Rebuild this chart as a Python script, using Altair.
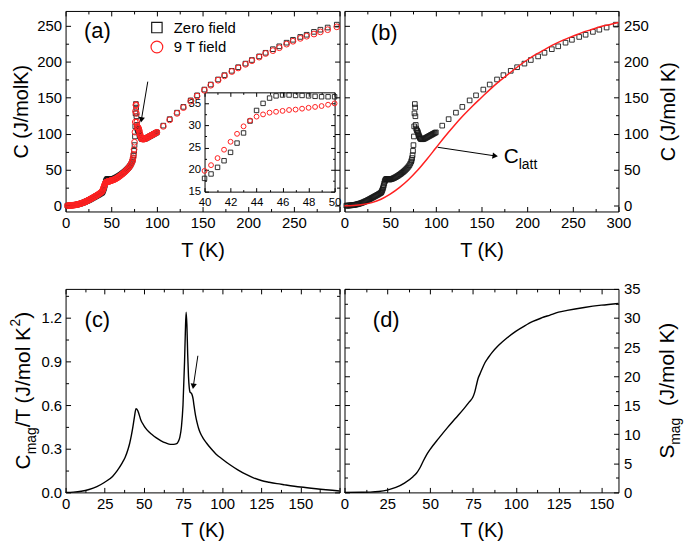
import math
import altair as alt
import pandas as pd

# ---------------- data: panel (a)/(b) specific heat ----------------
T_low1 = [2, 3, 4, 5, 6, 7, 8, 9, 10, 11, 12, 13, 14, 15, 16, 17, 18, 19, 20, 21,
          22, 23, 24, 25, 26, 27, 28, 29, 30, 31, 32, 33, 34, 35, 36, 37, 38, 39]
C0_low1 = [0.05, 0.1, 0.2, 0.3, 0.4, 0.5, 0.65, 0.8, 1.0, 1.2, 1.45, 1.7, 2.0, 2.35, 2.7, 3.1,
           3.5, 4.0, 4.5, 5.0, 5.6, 6.2, 6.8, 7.4, 8.0, 8.7, 9.4, 10.1, 10.8, 11.5, 12.2, 12.9,
           13.6, 14.3, 15.0, 15.7, 16.5, 17.3]
C9_low1 = [0.05, 0.1, 0.2, 0.3, 0.4, 0.5, 0.65, 0.8, 1.0, 1.2, 1.45, 1.7, 2.0, 2.4, 2.8, 3.2,
           3.6, 4.1, 4.6, 5.1, 5.7, 6.3, 7.0, 7.6, 8.3, 9.0, 9.7, 10.4, 11.2, 11.9, 12.7, 13.4,
           14.2, 15.0, 15.8, 16.7, 17.6, 18.6]

T_ins = [40, 40.5, 41, 41.5, 42, 42.5, 43, 43.5, 44, 44.5, 45, 45.5, 46, 46.5, 47, 47.5,
         48, 48.5, 49, 49.5, 50]
C0_ins = [18.0, 19.0, 20.5, 22.0, 23.9, 26.0, 28.3, 31.0, 33.4, 35.0, 36.2, 36.7, 36.9, 36.9,
          36.8, 36.8, 36.7, 36.6, 36.5, 36.5, 36.5]
C9_ins = [19.7, 21.0, 22.6, 24.5, 26.3, 28.1, 29.8, 31.1, 32.0, 32.5, 32.9, 33.1, 33.3, 33.5,
          33.6, 33.8, 34.0, 34.2, 34.4, 34.7, 35.0]

T_low2 = [51, 52, 53, 54, 55, 56, 57, 58, 59, 60, 61, 62, 63, 64, 65, 66, 67, 68, 69, 70, 71, 72, 73,
          73.5, 74, 74.5, 75, 75.5, 76, 76.3, 76.6, 77, 77.3, 77.6, 78, 78.5, 79, 79.5, 80, 80.5,
          81, 81.5, 82, 82.5, 83, 83.5, 84,
          85, 86, 87, 88, 89, 90, 91, 92, 93, 94, 95, 96, 97, 98, 99, 100]
C0_low2 = [36.8, 37.2, 37.7, 38.3, 38.9, 39.6, 40.3, 41.1, 41.9, 42.8, 43.7, 44.6, 45.6, 46.6,
           47.7, 48.8, 50.0, 51.3, 52.7, 54.3, 56.1, 58.3, 61.0,
           63, 66, 70, 76, 84, 96, 110, 128, 141, 136, 124, 112, 107, 105, 104, 103, 101,
           99, 97, 95.5, 94.2, 93.3, 92.7, 92.3,
           92.1, 92.3, 92.7, 93.3, 94.0, 94.7, 95.4, 96.1, 96.8, 97.5, 98.2, 98.9, 99.6, 100.3,
           101.0, 101.7]
C9_low2 = [35.2, 35.6, 36.1, 36.7, 37.4, 38.1, 38.9, 39.8, 40.7, 41.7, 42.7, 43.7, 44.8, 45.9,
           47.1, 48.3, 49.6, 51.0, 52.5, 54.2, 56.1, 58.4, 61.2,
           63.5, 66.5, 71, 78, 88, 102, 116, 131, 140, 139, 128, 116, 110, 108.5, 108, 107, 105,
           102.5, 99.5, 97, 95, 93.8, 93, 92.5,
           92.2, 92.4, 92.8, 93.4, 94.1, 94.8, 95.5, 96.2, 96.9, 97.6, 98.3, 99.0, 99.7, 100.4,
           101.1, 101.8]

T_hi = [107, 114, 122, 129, 137, 144, 152, 159, 167, 174, 182, 189, 197, 204, 212, 219, 227,
        234, 242, 249, 257, 264, 272, 279, 287, 297]
C0_hi = [111, 120, 129, 137, 146, 153, 161, 168, 175, 181, 187, 192, 197, 202, 207, 212, 217,
         221, 226, 230, 234, 237, 241, 244, 247, 251]
C9_hi = [110, 119, 128, 136, 145, 152, 160, 167, 174, 180, 186, 191, 196, 201, 206, 211, 215,
         219, 224, 228, 232, 235, 238, 241, 244, 248]

# lattice contribution (panel b)
T_latt = [0, 10, 20, 30, 40, 50, 60, 70, 80, 90, 100, 110, 120, 130, 140, 150, 160, 170, 180,
          190, 200, 210, 220, 230, 240, 250, 260, 270, 280, 290, 300]
C_latt = [0, 0.4, 1.6, 4.3, 9, 16, 25, 36, 49, 64, 80, 96, 111, 125, 138, 150, 162, 173, 183,
          193, 202, 210, 217, 224, 230, 235, 240, 244, 248, 251, 254]

# ---------------- data: panel (c) Cmag/T ----------------
T_cm = [0, 5, 10, 15, 20, 25, 30, 33, 36, 38, 40, 41, 42, 43, 44, 45, 46, 47, 48, 50,
        52, 55, 58, 61, 64, 67, 69, 71, 72, 73, 74, 75, 76, 76.5, 77, 77.5, 78, 78.5, 79, 79.5,
        80, 80.5, 81, 81.5, 82, 83, 84, 85, 86, 88, 90, 93, 96, 100, 105, 110, 115, 120, 125, 130,
        135, 140, 150, 160, 175]
CmT = [0, 0.002, 0.008, 0.02, 0.04, 0.07, 0.11, 0.15, 0.2, 0.24, 0.3, 0.34, 0.39, 0.45, 0.52,
       0.575, 0.565, 0.535, 0.5, 0.46, 0.43, 0.4, 0.375, 0.355, 0.34, 0.33, 0.33, 0.335, 0.35,
       0.38, 0.45, 0.6, 0.9, 1.1, 1.24, 1.15, 0.95, 0.8, 0.72, 0.69, 0.685, 0.68, 0.665, 0.64,
       0.6, 0.53, 0.48, 0.44, 0.41, 0.37, 0.34, 0.3, 0.265, 0.23, 0.19, 0.155, 0.125, 0.1, 0.082,
       0.07, 0.06, 0.052, 0.037, 0.025, 0.01]

# ---------------- data: panel (d) Smag ----------------
T_s = [0, 10, 15, 20, 25, 30, 35, 40, 42, 44, 46, 48, 50, 55, 60, 65, 70, 73, 75, 76, 77, 78,
       79, 80, 82, 84, 86, 90, 95, 100, 105, 110, 115, 120, 125, 130, 140, 150, 160]
S_mag = [0, 0.02, 0.05, 0.15, 0.4, 0.85, 1.6, 2.7, 3.3, 4.2, 5.4, 6.5, 7.4, 9.3, 11.1, 12.8,
         14.5, 15.6, 16.4, 17.2, 18.4, 19.6, 20.3, 21.0, 22.3, 23.2, 24.0, 25.3, 26.6, 27.7,
         28.6, 29.4, 30.0, 30.5, 31.0, 31.3, 31.8, 32.2, 32.5]

# ---------------- annotations ----------------
arrow_a_T = [90, 83]
arrow_a_C = [172, 119]
arrow_b_T = [102, 165]
arrow_b_C = [81, 69]
arrow_c_T = [84.5, 81.6]
arrow_c_V = [0.94, 0.73]
legend_labels = ["Zero field", "9 T field"]
legend_T = [100, 100]
legend_C = [247, 220]
latt_T = [170]
latt_C = [68]

# ---------------- style / layout ----------------
FONT = "Liberation Sans"
INK = "#1a1a1a"
RED = "#ff2020"
W1, H1 = 276, 202
W2, H2 = 276, 205
XD_AB, YD_AB = [0, 300], [-8, 270]
XD_C, YD_C = [0, 175], [0, 1.4]
XD_D, YD_D = [0, 160], [0, 35]
INS_XD, INS_YD = [40, 50], [15, 37.5]
INS_XR, INS_YR = [140, 271], [182, 82]

EM = {' ': .278, '(': .333, ')': .333, '/': .278, '2': .556, 'C': .722, 'J': .5, 'K': .667,
      'S': .667, 'T': .611, 'a': .556, 'g': .556, 'l': .222, 'm': .833, 'o': .556, 't': .278}


def tw(s, fs):
    return sum(EM.get(ch, 0.556) for ch in s) * fs


def sc(dom, rng=None):
    if rng is None:
        return alt.Scale(domain=dom, nice=False, zero=False)
    return alt.Scale(domain=dom, range=rng, nice=False, zero=False)


def tick_ax(orient, offset, values, size, domain=False):
    return alt.Axis(orient=orient, offset=offset, values=values, ticks=True, tickSize=size,
                    tickColor="black", tickWidth=1, labels=False, domain=domain,
                    domainColor="black", domainWidth=1, grid=False, title=None)


def lab_ax(orient, values, offset=0, fmt=None, title=None, tx=0, ty=0, tangle=None,
           lp=4, lfs=15, tfs=20):
    kw = dict(orient=orient, offset=offset, values=values, ticks=False, tickSize=0,
              domain=False, grid=False, labelPadding=lp, labelFont=FONT, labelFontSize=lfs,
              labelColor="black", labelFlush=False, labelOverlap=False)
    if fmt:
        kw["format"] = fmt
    if title:
        kw.update(title=title, titleFont=FONT, titleFontSize=tfs, titleFontWeight="normal",
                  titleColor="black", titleX=tx, titleY=ty, titleAlign="center",
                  titleBaseline="middle")
        if tangle is not None:
            kw["titleAngle"] = tangle
    else:
        kw["title"] = None
    return alt.Axis(**kw)


def axes_layer(xd, yd, xax, yax, xr=None, yr=None):
    d = pd.DataFrame({"x": [xd[0]], "y": [yd[0]]})
    return alt.Chart(d).mark_point(opacity=0, size=1).encode(
        x=alt.X("x:Q", scale=sc(xd, xr), axis=xax),
        y=alt.Y("y:Q", scale=sc(yd, yr), axis=yax))


def frame_ticks(W, H, xd, yd, xmaj, xmin, ymaj, ymin):
    out = []
    for xv, yv, s in ((xmaj, ymaj, 5), (xmin, ymin, 3)):
        out.append(axes_layer(xd, yd, tick_ax("top", -H, xv, s), tick_ax("right", -W, yv, s)))
        out.append(axes_layer(xd, yd, tick_ax("bottom", -H, xv, s), tick_ax("left", -W, yv, s)))
    return out


def head_angle(x0, y0, x1, y1, sx, sy):
    return math.degrees(math.atan2(-(y1 - y0) * sy, (x1 - x0) * sx)) % 360


def arrow(ts, vs, xd, yd, W, H):
    df = pd.DataFrame({"x": ts, "y": vs})
    sx = W / (xd[1] - xd[0])
    sy = H / (yd[1] - yd[0])
    ang = head_angle(ts[0], vs[0], ts[1], vs[1], sx, sy)
    shaft = alt.Chart(df).mark_line(color="black", strokeWidth=1).encode(
        x=alt.X("x:Q", scale=sc(xd), axis=None), y=alt.Y("y:Q", scale=sc(yd), axis=None))
    head = alt.Chart(df.iloc[[1]]).mark_point(shape="triangle-right", filled=True, size=40,
                                                color="black", opacity=1, angle=ang).encode(
        x=alt.X("x:Q", scale=sc(xd), axis=None), y=alt.Y("y:Q", scale=sc(yd), axis=None))
    return [shaft, head]


def label(txt, x, y, fs=22):
    d = pd.DataFrame({"x": [0]})
    return alt.Chart(d).mark_text(text=txt, font=FONT, fontSize=fs, color="black",
                                  align="center", baseline="middle").encode(
        x=alt.value(x), y=alt.value(y))


def rot_title(pieces, cx, cy):
    # pieces: (text, font size, baseline shift); leading spaces become an offset
    d = pd.DataFrame({"x": [0]})
    total = sum(tw(t, fs) for t, fs, sh in pieces)
    pos = -total / 2
    out = []
    for t, fs, sh in pieces:
        lead = len(t) - len(t.lstrip(" "))
        shown = t.lstrip(" ")
        out.append(alt.Chart(d).mark_text(text=shown, font=FONT, fontSize=fs, color="black",
                                          angle=270, align="left", baseline="middle",
                                          dx=pos + tw(" " * lead, fs), dy=sh).encode(
            x=alt.value(cx), y=alt.value(cy)))
        pos += tw(t, fs)
    return out


def panel(layers, W, H):
    return alt.layer(*layers).resolve_scale(x="independent", y="independent").properties(
        width=W, height=H)


# ---------------- assemble data frames ----------------
zf = pd.DataFrame({"T": T_low1 + T_ins + T_low2 + T_hi, "C": C0_low1 + C0_ins + C0_low2 + C0_hi})
nf = pd.DataFrame({"T": T_low1 + T_ins + T_low2 + T_hi, "C": C9_low1 + C9_ins + C9_low2 + C9_hi})
ins0 = pd.DataFrame({"T": T_ins, "C": C0_ins})
ins9 = pd.DataFrame({"T": T_ins, "C": C9_ins})
latt = pd.DataFrame({"T": T_latt, "C": C_latt})
cm = pd.DataFrame({"T": T_cm, "V": CmT})
sm = pd.DataFrame({"T": T_s, "V": S_mag})
leg = pd.DataFrame({"T": legend_T, "C": legend_C, "lab": legend_labels})

XMAJ_AB = [0, 50, 100, 150, 200, 250, 300]
XMIN_AB = [25, 75, 125, 175, 225, 275]
YMAJ_AB = [0, 50, 100, 150, 200, 250]
YMIN_AB = [25, 75, 125, 175, 225]


def sq(df, xd, yd, xax, yax, size=22, xr=None, yr=None):
    return alt.Chart(df).mark_point(shape="square", filled=False, size=size, color=INK,
                                    strokeWidth=0.9, opacity=1).encode(
        x=alt.X("T:Q", scale=sc(xd, xr), axis=xax), y=alt.Y("C:Q", scale=sc(yd, yr), axis=yax))


def ci(df, xd, yd, xax, yax, size=34, xr=None, yr=None):
    return alt.Chart(df).mark_point(shape="circle", filled=False, size=size, color=RED,
                                    strokeWidth=1, opacity=1).encode(
        x=alt.X("T:Q", scale=sc(xd, xr), axis=xax), y=alt.Y("C:Q", scale=sc(yd, yr), axis=yax))


# ---------------- panel (a) ----------------
la = frame_ticks(W1, H1, XD_AB, YD_AB, XMAJ_AB, XMIN_AB, YMAJ_AB, YMIN_AB)
la.append(sq(zf, XD_AB, YD_AB,
             lab_ax("bottom", [0, 50, 100, 150, 200, 250], title="T (K)", tx=W1 / 2, ty=39),
             lab_ax("left", YMAJ_AB, title="C (J/molK)", tx=-44, ty=H1 / 2, tangle=270)))
la.append(ci(nf, XD_AB, YD_AB, None, None))
la += arrow(arrow_a_T, arrow_a_C, XD_AB, YD_AB, W1, H1)
la.append(alt.Chart(leg.iloc[[0]]).mark_point(shape="square", filled=False, size=110, color=INK,
                                              strokeWidth=1.2, opacity=1).encode(
    x=alt.X("T:Q", scale=sc(XD_AB), axis=None), y=alt.Y("C:Q", scale=sc(YD_AB), axis=None)))
la.append(alt.Chart(leg.iloc[[1]]).mark_point(shape="circle", filled=False, size=140, color=RED,
                                              strokeWidth=1.2, opacity=1).encode(
    x=alt.X("T:Q", scale=sc(XD_AB), axis=None), y=alt.Y("C:Q", scale=sc(YD_AB), axis=None)))
la.append(alt.Chart(leg).mark_text(font=FONT, fontSize=15, color="black", align="left",
                                   baseline="middle", dx=17).encode(
    x=alt.X("T:Q", scale=sc(XD_AB), axis=None), y=alt.Y("C:Q", scale=sc(YD_AB), axis=None),
    text="lab:N"))
la.append(label("(a)", 32, 20))
# inset
IXMAJ = [40, 42, 44, 46, 48, 50]
IXMIN = [41, 43, 45, 47, 49]
IYMAJ = [15, 20, 25, 30, 35]
IYMIN = [17.5, 22.5, 27.5, 32.5]
la.append(sq(ins0, INS_XD, INS_YD,
             lab_ax("bottom", IXMAJ, offset=INS_YR[0] - H1, lp=5, lfs=11.5),
             lab_ax("left", IYMAJ, offset=-INS_XR[0], lp=4, lfs=11.5),
             size=20, xr=INS_XR, yr=INS_YR))
la.append(ci(ins9, INS_XD, INS_YD,
             tick_ax("top", -INS_YR[0], IXMAJ, 4, domain=True),
             tick_ax("right", INS_XR[0] - W1, IYMAJ, 4, domain=True),
             size=24, xr=INS_XR, yr=INS_YR))
la.append(axes_layer(INS_XD, INS_YD,
                     tick_ax("bottom", INS_YR[1] - H1, IXMAJ, 4, domain=True),
                     tick_ax("left", -INS_XR[1], IYMAJ, 4, domain=True), INS_XR, INS_YR))
la.append(axes_layer(INS_XD, INS_YD,
                     tick_ax("top", -INS_YR[0], IXMIN, 2),
                     tick_ax("right", INS_XR[0] - W1, IYMIN, 2), INS_XR, INS_YR))
la.append(axes_layer(INS_XD, INS_YD,
                     tick_ax("bottom", INS_YR[1] - H1, IXMIN, 2),
                     tick_ax("left", -INS_XR[1], IYMIN, 2), INS_XR, INS_YR))
pa = panel(la, W1, H1)

# ---------------- panel (b) ----------------
lb = frame_ticks(W1, H1, XD_AB, YD_AB, XMAJ_AB, XMIN_AB, YMAJ_AB, YMIN_AB)
lb.append(sq(zf, XD_AB, YD_AB,
             lab_ax("bottom", XMAJ_AB, title="T (K)", tx=W1 / 2, ty=39),
             lab_ax("right", YMAJ_AB, lp=5, title="C (J/mol K)", tx=50, ty=H1 / 2, tangle=270)))
lb.append(alt.Chart(latt).mark_line(color=RED, strokeWidth=1.5, interpolate="monotone").encode(
    x=alt.X("T:Q", scale=sc(XD_AB), axis=None), y=alt.Y("C:Q", scale=sc(YD_AB), axis=None)))
lb += arrow(arrow_b_T, arrow_b_C, XD_AB, YD_AB, W1, H1)
latt_df = pd.DataFrame({"T": latt_T, "C": latt_C})
lb.append(alt.Chart(latt_df).mark_text(text="C", font=FONT, fontSize=21, color="black",
                                       align="left", baseline="middle", dx=4).encode(
    x=alt.X("T:Q", scale=sc(XD_AB), axis=None), y=alt.Y("C:Q", scale=sc(YD_AB), axis=None)))
lb.append(alt.Chart(latt_df).mark_text(text="latt", font=FONT, fontSize=14, color="black",
                                       align="left", baseline="middle", dx=4 + tw("C", 21),
                                       dy=8).encode(
    x=alt.X("T:Q", scale=sc(XD_AB), axis=None), y=alt.Y("C:Q", scale=sc(YD_AB), axis=None)))
lb.append(label("(b)", 40, 22))
pb = panel(lb, W1, H1)

# ---------------- panel (c) ----------------
lc = frame_ticks(W2, H2, XD_C, YD_C,
                 [0, 25, 50, 75, 100, 125, 150, 175],
                 [12.5, 37.5, 62.5, 87.5, 112.5, 137.5, 162.5],
                 [0, 0.3, 0.6, 0.9, 1.2], [0.15, 0.45, 0.75, 1.05, 1.35])
lc.append(alt.Chart(cm).mark_line(color="black", strokeWidth=1.4, interpolate="monotone").encode(
    x=alt.X("T:Q", scale=sc(XD_C),
            axis=lab_ax("bottom", [0, 25, 50, 75, 100, 125, 150], title="T (K)", tx=W2 / 2, ty=38)),
    y=alt.Y("V:Q", scale=sc(YD_C), axis=lab_ax("left", [0, 0.3, 0.6, 0.9, 1.2], fmt=".1f"))))
lc += arrow(arrow_c_T, arrow_c_V, XD_C, YD_C, W2, H2)
lc.append(label("(c)", 32, 31))
lc += rot_title([("C", 21, 0), ("mag", 14, 8), ("/T (J/mol K", 21, 0), ("2", 14, -8), (")", 21, 0)],
                -42, H2 / 2)
pc = panel(lc, W2, H2)

# ---------------- panel (d) ----------------
ld = frame_ticks(W2, H2, XD_D, YD_D,
                 [0, 25, 50, 75, 100, 125, 150],
                 [12.5, 37.5, 62.5, 87.5, 112.5, 137.5],
                 [0, 5, 10, 15, 20, 25, 30, 35],
                 [2.5, 7.5, 12.5, 17.5, 22.5, 27.5, 32.5])
ld.append(alt.Chart(sm).mark_line(color="black", strokeWidth=1.4, interpolate="monotone").encode(
    x=alt.X("T:Q", scale=sc(XD_D),
            axis=lab_ax("bottom", [0, 25, 50, 75, 100, 125, 150], title="T (K)", tx=W2 / 2, ty=38)),
    y=alt.Y("V:Q", scale=sc(YD_D), axis=lab_ax("right", [0, 5, 10, 15, 20, 25, 30, 35], lp=5))))
ld.append(label("(d)", 42, 31))
ld += rot_title([("S", 21, 0), ("mag", 14, 8), ("  (J/mol K)", 21, 0)], W2 + 50, H2 / 2)
pd_ = panel(ld, W2, H2)

chart = alt.ConcatChart(concat=[pa, pb, pc, pd_], columns=2, bounds="flush",
                        spacing={"row": 78, "column": 5}).configure_view(
    stroke="black", strokeWidth=1).properties(
    background="white", padding={"left": 0, "top": 0, "right": 0, "bottom": 0})

chart.save("out.html", embed_options={"renderer": "svg", "actions": False})
